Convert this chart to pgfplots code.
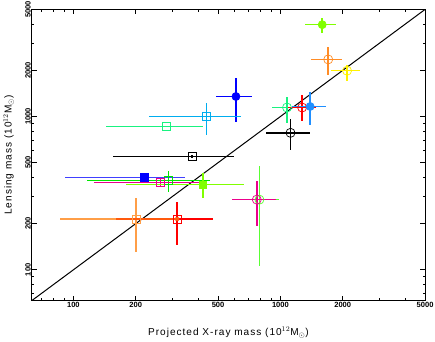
\documentclass[border=0pt]{standalone}
\usepackage{fontspec}
\setmainfont{Liberation Sans}
\newfontfamily\labfont[LetterSpace=10]{Liberation Sans}
\usepackage{pgfplots}
\pgfplotsset{compat=1.18}

\definecolor{limec}{rgb}{0.5,1,0}
\definecolor{orangec}{rgb}{1,0.55,0.15}
\definecolor{orangesq}{rgb}{1,0.62,0.28}
\definecolor{springc}{rgb}{0.1,0.95,0.5}
\definecolor{dodger}{rgb}{0.12,0.56,1}
\definecolor{greenc}{rgb}{0.35,1,0.2}
\definecolor{orangered}{rgb}{1,0.35,0.05}
\definecolor{bluebar}{rgb}{0.25,0.25,1}

\pgfplotsset{
  pt/.style={only marks, mark options={line width=0.7pt, solid},
    error bars/x dir=both, error bars/x explicit,
    error bars/y dir=both, error bars/y explicit,
    error bars/error mark=none,
    error bars/error bar style={line width=1.5pt}},
  oc/.style={pt, mark=o, mark size=4.5pt},
  fc/.style={pt, mark=*, mark size=4pt},
  os/.style={pt, mark=square, mark size=4pt},
  fs/.style={pt, mark=square*, mark size=3.8pt},
}

\begin{document}
\begin{tikzpicture}
\begin{axis}[
    xmode=log, ymode=log,
    scale only axis, width=391pt, height=289.5pt,
    xmin=63, xmax=5000, ymin=63, ymax=5000,
    xtick={100,200,500,1000,2000,5000},
    xticklabels={100,200,500,1000,2000,5000},
    ytick={100,200,500,1000,2000,5000},
    yticklabels={100,200,500,1000,2000,5000},
    minor xtick={70,80,90,300,400,600,700,800,900,3000,4000},
    minor ytick={70,80,90,300,400,600,700,800,900,3000,4000},
    tick align=inside,
    major tick length=5pt, minor tick length=2.5pt,
    tick style={black, line width=0.7pt},
    axis line style={line width=1.1pt},
    ticklabel style={font=\bfseries\fontsize{7.5}{8}\selectfont},
    xticklabel style={inner sep=1.5pt},
    yticklabel style={rotate=90, anchor=south, inner sep=1pt},
    xlabel={Projected X-ray mass (10$^{12}$M$_{\odot}$)},
    ylabel={Lensing mass (10$^{12}$M$_{\odot}$)},
    label style={font=\labfont\fontsize{10}{12}\selectfont},
    xlabel style={at={(axis description cs:0.5,-0.11)}, anchor=center},
    ylabel style={at={(axis description cs:-0.059,0.5)}, anchor=center},
]
\addplot[black, line width=1pt] coordinates {(63,63) (5000,5000)};

\addplot[fc, limec] coordinates {(1592,3975) += (271,415) -= (276,451)};
\addplot[oc, orangec] coordinates {(1702,2358) += (291,480) -= (295,485)};
\addplot[oc, yellow] coordinates {(2099,1990) += (330,164) -= (338,297)};
\addplot[fc, blue] coordinates {(610,1351) += (119,439) -= (123,433)};
\addplot[oc, springc] coordinates {(1076,1145) += (183,206) -= (167,241)};
\addplot[oc, red] coordinates {(1273,1145) += (215,227) -= (185,213)};
\addplot[fc, dodger] coordinates {(1392,1163) += (268,273) -= (254,286)};
\addplot[oc, black] coordinates {(1119,783) += (269,184) -= (269,180)};

\addplot[os, cyan] coordinates {(439,1000) += (206,229) -= (208,238)};
\addplot[os, springc] coordinates {(281,860) += (143,0) -= (137,0)};
\addplot[os, black] coordinates {(375,548) += (224,12) -= (220,12)};
\addplot[fs, blue, error bars/error bar style={bluebar}] coordinates {(220,401) += (128,8) -= (129,8)};
\addplot[os, green!90!black] coordinates {(288,382) += (171,62) -= (172,62)};
\addplot[os, magenta] coordinates {(263,372) += (147,23) -= (137,22)};
\addplot[fs, limec] coordinates {(422,359) += (248,70) -= (243,65)};

\addplot[os, orangesq] coordinates {(201,214.5) += (116,81) -= (115,83)};
\addplot[os, red, error bars/x dir=plus] coordinates {(317,214.5) += (156,63.5) -= (157,69.5)};
\addplot[only marks, mark=none, orangered, error bars/x dir=minus, error bars/x explicit,
    error bars/error mark=none, error bars/error bar style={line width=1.5pt}]
    coordinates {(317,214.5) += (156,0) -= (157,0)};

\addplot[oc, greenc] coordinates {(792,287) += (188,186) -= (182,181)};
\addplot[oc, magenta] coordinates {(769,287) += (185,91) -= (188,94)};
\end{axis}
\end{tikzpicture}
\end{document}
